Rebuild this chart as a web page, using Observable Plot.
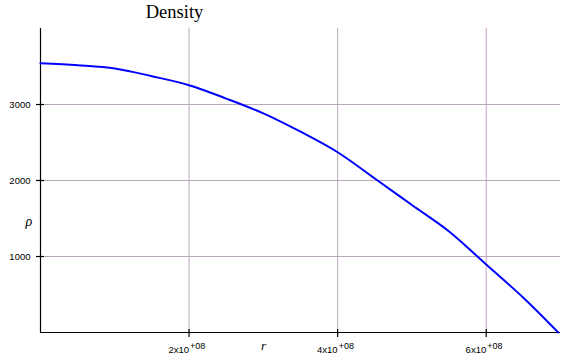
<!DOCTYPE html>
<html>
<head>
<meta charset="utf-8">
<script src="https://cdn.jsdelivr.net/npm/d3@7"></script>
<script src="https://cdn.jsdelivr.net/npm/@observablehq/plot@0.6"></script>
<style>
  html, body { margin: 0; padding: 0; background: #fff; }
  #chart { width: 580px; height: 355px; }
</style>
</head>
<body>
<div id="chart"></div>
<script>
// Data
const radius = [0, 0.5e8, 1e8, 1.5e8, 2e8, 2.5e8, 3e8, 3.5e8, 4e8, 4.5e8, 5e8, 5.5e8, 6e8, 6.5e8, 6.97e8];
const density = [3543, 3516, 3474, 3372, 3254, 3078, 2883, 2642, 2372, 2026, 1678, 1330, 895, 458, 0];
const xTicks = [2e8, 4e8, 6e8];
const xTickMantissa = ["2x10", "4x10", "6x10"];
const xTickExponent = ["+08", "+08", "+08"];
const yTicks = [1000, 2000, 3000];
const titleText = "Density";
const xLabel = "r";
const yLabel = "\u03C1";

const rows = radius.map((r, i) => ({r, rho: density[i]}));

const W = 580, H = 355;
const mL = 40, mR = 20, mT = 28, mB = 23;

const plot = Plot.plot({
  width: W,
  height: H,
  marginLeft: mL,
  marginRight: mR,
  marginTop: mT,
  marginBottom: mB,
  style: {fontFamily: "'Liberation Sans', Arial, sans-serif", fontSize: "9.5px", color: "#000", background: "#fff", overflow: "visible"},
  x: {domain: [0, 7e8]},
  y: {domain: [0, 4000]},
  marks: [
    // grid
    Plot.ruleY(yTicks, {stroke: "#b9a8bc", strokeWidth: 1}),
    Plot.ruleX(xTicks.slice(0, 2), {stroke: "#b6a8bc", strokeWidth: 1}),
    Plot.ruleX(xTicks.slice(2), {stroke: "#cc9ccf", strokeWidth: 1}),
    // axes lines
    Plot.ruleX([0], {stroke: "#000", strokeWidth: 1.2}),
    Plot.ruleY([0], {stroke: "#000", strokeWidth: 1.2}),
    // inner tick parts
    Plot.ruleY(yTicks, {stroke: "#000", strokeWidth: 1.2, insetRight: W - mL - mR - 4}),
    Plot.ruleX(xTicks, {stroke: "#000", strokeWidth: 1.2, insetTop: H - mT - mB - 3}),
    Plot.axisY({ticks: yTicks, tickSize: 4, tickPadding: 6, tickFormat: d3.format("d"), label: null, stroke: "#000", strokeWidth: 1.2, fontSize: 9.5}),
    Plot.axisX({ticks: xTicks, tickSize: 5, tickFormat: () => "", label: null, stroke: "#000", strokeWidth: 1.2}),
    // x tick labels with superscripts
    Plot.text(xTicks, {x: d => d, text: (d, i) => xTickMantissa[i], frameAnchor: "bottom", textAnchor: "end", lineAnchor: "bottom", dy: 20, fontSize: 9.5, fill: "#000"}),
    Plot.text(xTicks, {x: d => d, text: (d, i) => xTickExponent[i], frameAnchor: "bottom", textAnchor: "start", lineAnchor: "bottom", dx: 1, dy: 16.5, fontSize: 9, fill: "#000"}),
    // curve
    Plot.line(rows, {x: "r", y: "rho", stroke: "#0000ff", strokeWidth: 2, curve: "catmull-rom"}),
    // title and axis labels
    Plot.text([titleText], {frameAnchor: "top", dx: 174 - (mL + (W - mR)) / 2, dy: -11, lineAnchor: "bottom", fontSize: 18.5, fontFamily: "'Liberation Serif', 'Times New Roman', serif", fill: "#000"}),
    Plot.text([xLabel], {frameAnchor: "bottom", dx: 263 - (mL + (W - mR)) / 2, dy: 17, fontSize: 13, fontStyle: "italic", fontFamily: "'Liberation Serif', 'Times New Roman', serif", fill: "#000"}),
    Plot.text([yLabel], {frameAnchor: "left", dx: 25 - mL, dy: 221 - (mT + (H - mB)) / 2, fontSize: 14, fontStyle: "italic", fontFamily: "'Liberation Serif', 'Times New Roman', serif", fill: "#000"})
  ]
});
document.getElementById("chart").appendChild(plot);
</script>
</body>
</html>
